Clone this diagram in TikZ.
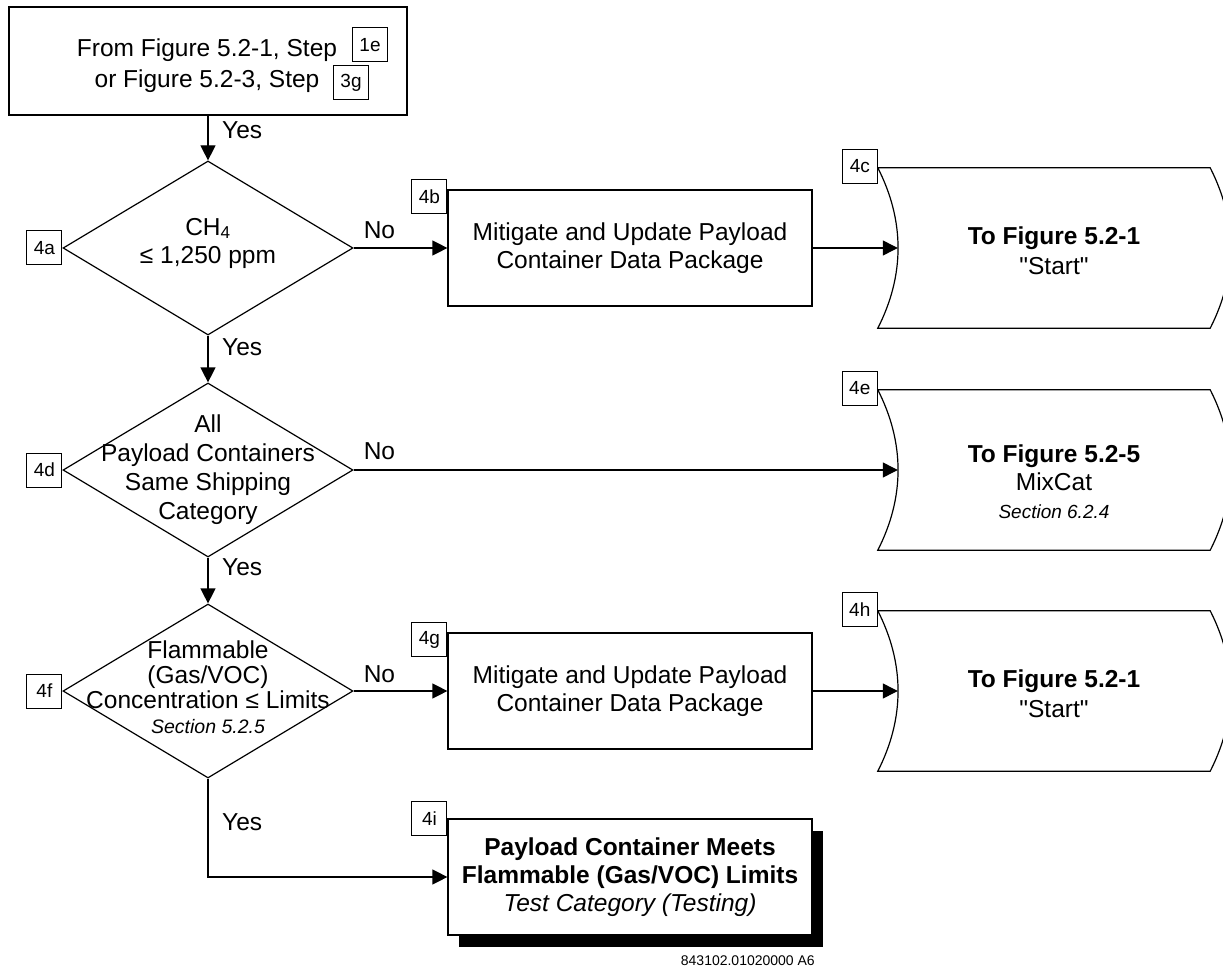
\documentclass[tikz,border=0pt]{standalone}
\usepackage{fontspec}
\setmainfont{Liberation Sans}
\usetikzlibrary{shapes.geometric,arrows.meta,positioning,shadows}

\newcommand\bigtxt{\fontsize{24.5}{28}\selectfont}
\newcommand\offpage[1]{%
  \draw[line width=1.2pt] ([xshift=-20pt]#1.north west) -- (#1.north east)
    .. controls ([xshift=27pt,yshift=-53pt]#1.north east) and ([xshift=27pt,yshift=53pt]#1.south east) .. (#1.south east)
    -- ([xshift=-20pt]#1.south west)
    .. controls ([xshift=7pt,yshift=53pt]#1.south west) and ([xshift=7pt,yshift=-53pt]#1.north west) .. cycle;}

\begin{document}
\begin{tikzpicture}[x=1pt,y=-1pt,
  box/.style={draw, line width=1.2pt, minimum width=364pt, minimum height=116pt, align=center, font=\bigtxt, inner sep=0pt},
  dia/.style={draw, diamond, line width=1.2pt, minimum width=290pt, minimum height=174pt, inner sep=0pt},
  txt/.style={align=center, font=\bigtxt, inner sep=0pt},
  tag/.style={draw, fill=white, line width=1pt, minimum width=35pt, minimum height=34pt, inner sep=0pt, font=\fontsize{19}{19}\selectfont},
  offp/.style={minimum width=312pt, minimum height=160pt, inner sep=0pt},
  arr/.style={line width=1.2pt, -{Triangle[length=15pt,width=15pt]}},
  lbl/.style={font=\bigtxt, inner sep=0pt, anchor=base west}]
\useasboundingbox (0,0) rectangle (1223,968);

\node[draw, line width=1.2pt, minimum width=398pt, minimum height=108pt] (start) at (208,61) {};
\node[txt, anchor=base] (from1) at (207,57) {From Figure 5.2-1, Step};
\node[txt, anchor=base] (from2) at (207,88) {or Figure 5.2-3, Step};
\node[tag] (t1e) at (370,45) {1e};
\node[tag] (t3g) at (351,83) {3g};

\node[dia] (d4a) at (208,248) {};
\node[txt, yshift=5pt] (q4a) at (d4a) {CH\textsubscript{4}\\≤ 1,250 ppm};
\node[box] (b4b) at (630,248) {Mitigate and Update Payload\\Container Data Package};
\node[offp] (o4c) at (1054,248) {};
\node[txt, yshift=-3pt] (q4c) at (o4c) {\textbf{To Figure 5.2-1}\\[2pt]\textquotedbl Start\textquotedbl};

\node[dia] (d4d) at (208,470) {};
\node[txt, font=\fontsize{24.5}{29}\selectfont] (q4d) at (d4d) {All\\Payload Containers\\Same Shipping\\Category};
\node[offp] (o4e) at (1054,470) {};
\node[txt, yshift=-12pt] (q4e) at (o4e) {\textbf{To Figure 5.2-5}\\MixCat\\{\fontsize{19}{22}\selectfont\itshape Section 6.2.4}};

\node[dia] (d4f) at (208,691) {};
\node[txt, font=\fontsize{24.5}{25}\selectfont, yshift=4pt] (q4f) at (d4f) {Flammable\\(Gas/VOC)\\Concentration ≤ Limits\\{\fontsize{19.5}{22}\selectfont\itshape Section 5.2.5}};
\node[box] (b4g) at (630,691) {Mitigate and Update Payload\\Container Data Package};
\node[offp] (o4h) at (1054,691) {};
\node[txt, yshift=-3pt] (q4h) at (o4h) {\textbf{To Figure 5.2-1}\\[2pt]\textquotedbl Start\textquotedbl};

\node[box, fill=white, drop shadow={shadow xshift=11pt, shadow yshift=-12pt, fill=black, opacity=1}] (b4i) at (630,877)
  {\textbf{Payload Container Meets}\\\textbf{Flammable (Gas/VOC) Limits}\\\textit{Test Category (Testing)}};

\offpage{o4c}
\offpage{o4e}
\offpage{o4h}

\draw[arr] (start.south) -- (d4a.north);
\draw[arr] (d4a.south) -- (d4d.north);
\draw[arr] (d4d.south) -- (d4f.north);
\draw[arr] (d4f.south) |- (b4i.west);
\draw[arr] (d4a.east) -- (b4b.west);
\draw[arr] (b4b.east) -- (o4c.west);
\draw[arr] (d4d.east) -- (o4e.west);
\draw[arr] (d4f.east) -- (b4g.west);
\draw[arr] (b4g.east) -- (o4h.west);

\node[lbl] (yes1) at ([xshift=14pt,yshift=-23pt]start.south) {Yes};
\node[lbl] (yes2) at ([xshift=14pt,yshift=-20pt]d4a.south) {Yes};
\node[lbl] (yes3) at ([xshift=14pt,yshift=-18pt]d4d.south) {Yes};
\node[lbl] (yes4) at ([xshift=14pt,yshift=-52pt]d4f.south) {Yes};
\node[lbl] (no1) at ([xshift=10pt,yshift=9pt]d4a.east) {No};
\node[lbl] (no2) at ([xshift=10pt,yshift=11pt]d4d.east) {No};
\node[lbl] (no3) at ([xshift=10pt,yshift=9pt]d4f.east) {No};

\node[tag, anchor=east] (t4a) at (d4a.west) {4a};
\node[tag, anchor=north east] (t4b) at ([yshift=10pt]b4b.north west) {4b};
\node[tag, anchor=north east] (t4c) at ([xshift=-20pt,yshift=19pt]o4c.north west) {4c};
\node[tag, anchor=east] (t4d) at (d4d.west) {4d};
\node[tag, anchor=north east] (t4e) at ([xshift=-20pt,yshift=19pt]o4e.north west) {4e};
\node[tag, anchor=east] (t4f) at (d4f.west) {4f};
\node[tag, anchor=north east] (t4g) at ([yshift=10pt]b4g.north west) {4g};
\node[tag, anchor=north east] (t4h) at ([xshift=-20pt,yshift=19pt]o4h.north west) {4h};
\node[tag, anchor=north east] (t4i) at ([yshift=17pt]b4i.north west) {4i};

\node[anchor=base east, font=\fontsize{14}{14}\selectfont, inner sep=0pt] (code) at (815,965) {843102.01020000 A6};
\end{tikzpicture}
\end{document}
